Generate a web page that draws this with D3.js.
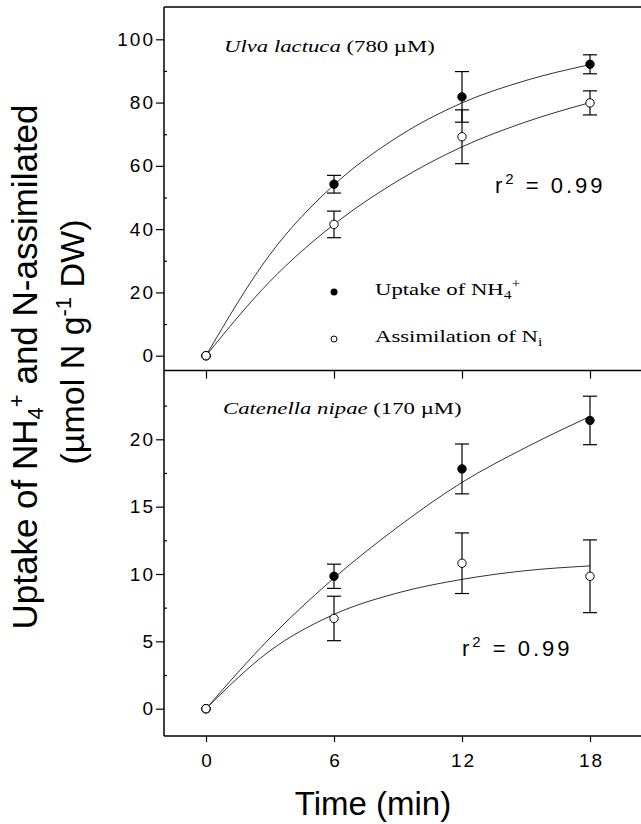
<!DOCTYPE html>
<html>
<head>
<meta charset="utf-8">
<script src="https://d3js.org/d3.v7.min.js"></script>
<style>
  body { margin: 0; background: #fff; }
  svg { display: block; }
  .tick text { font-family: "Liberation Sans", Arial, sans-serif; font-size: 19px; letter-spacing: 2px; fill: #000; }
  .tick line { stroke: #000; stroke-width: 1.2; }
  .serif { font-family: "Liberation Serif", "Times New Roman", serif; }
  .sans { font-family: "Liberation Sans", Arial, sans-serif; }
</style>
</head>
<body>
<div id="chart"></div>
<script>
// sampling times (min)
const times = [0, 6, 12, 18];

// Ulva lactuca (780 uM)
const ulvaUptake = [0, 54.2, 81.8, 92.1];
const ulvaUptakeErr = [0, 2.8, 8.0, 3.0];
const ulvaAssim = [0, 41.5, 69.2, 79.9];
const ulvaAssimErr = [0, 4.2, 8.5, 3.8];

// Catenella nipae (170 uM)
const catUptake = [0, 9.83, 17.8, 21.4];
const catUptakeErr = [0, 0.9, 1.85, 1.8];
const catAssim = [0, 6.7, 10.8, 9.83];
const catAssimErr = [0, 1.65, 2.25, 2.7];

// fitted curves
const fitTimes = [0, 3, 6, 9, 12, 15, 18];
const ulvaUptakeFit = [0, 32.0, 54.0, 69.2, 79.9, 87.0, 92.0];
const ulvaAssimFit = [0, 23.5, 41.5, 55.3, 66.0, 73.9, 80.0];
const catUptakeFit = [0, 5.25, 9.7, 13.5, 16.8, 19.4, 21.7];
const catAssimFit = [0, 4.3, 7.0, 8.6, 9.6, 10.25, 10.6];

const xTicks = [0, 6, 12, 18];
const topTicks = [0, 20, 40, 60, 80, 100];
const topMinor = [10, 30, 50, 70, 90];
const botTicks = [0, 5, 10, 15, 20];
const botMinor = [2.5, 7.5, 12.5, 17.5, 22.5];

const W = 641, H = 824;
const frameL = 164, frameR = 650, frameT = 7, frameMid = 370.5, frameB = 736;

const svg = d3.select("#chart").append("svg")
  .attr("width", W).attr("height", H);

const x = d3.scaleLinear().domain([0, 18]).range([206, 590]);
const yTop = d3.scaleLinear().domain([0, 100]).range([355.7, 39.3]);
const yBot = d3.scaleLinear().domain([0, 20]).range([708.7, 439.3]);

// frame lines
svg.append("line").attr("x1", frameL).attr("x2", frameL).attr("y1", frameT).attr("y2", frameB)
  .attr("stroke", "#000").attr("stroke-width", 1.5);
[frameT, frameMid, frameB].forEach(yy => {
  svg.append("line").attr("x1", frameL).attr("x2", frameR).attr("y1", yy).attr("y2", yy)
    .attr("stroke", "#000").attr("stroke-width", 1.5);
});

// y axes
function yAxes(scale, ticks, minor) {
  svg.append("g")
    .attr("transform", `translate(${frameL},0)`)
    .call(d3.axisLeft(scale).tickValues(ticks).tickSize(8).tickPadding(3).tickSizeOuter(0))
    .call(g => g.select(".domain").remove())
    .selectAll("text").attr("dx", "2px");
  svg.append("g")
    .attr("transform", `translate(${frameL},0)`)
    .call(d3.axisRight(scale).tickValues(minor).tickSize(3).tickFormat(""))
    .call(g => g.select(".domain").remove());
}
yAxes(yTop, topTicks, topMinor);
yAxes(yBot, botTicks, botMinor);

// ticks on the divider, pointing into the lower panel
svg.append("g")
  .attr("transform", `translate(0,${frameMid})`)
  .call(d3.axisBottom(x).tickValues(xTicks).tickSize(8).tickFormat(""))
  .call(g => g.select(".domain").remove());

// bottom x axis
svg.append("g")
  .attr("transform", `translate(0,${frameB})`)
  .call(d3.axisBottom(x).tickValues(xTicks).tickSize(6).tickPadding(12).tickSizeOuter(0))
  .call(g => g.select(".domain").remove())
  .selectAll("text").attr("dx", "1px");

// draw one series: fit curve, error bars, markers
function series(y, vals, errs, fit, filled) {
  const line = d3.line()
    .x((d, i) => x(fitTimes[i]))
    .y(d => y(d))
    .curve(d3.curveMonotoneX);
  svg.append("path")
    .datum(fit)
    .attr("d", line)
    .attr("fill", "none")
    .attr("stroke", "#333")
    .attr("stroke-width", 1);

  const pts = times.map((t, i) => ({t: t, v: vals[i], e: errs[i]}));
  const eb = svg.append("g").attr("stroke", "#000").attr("stroke-width", 1.2);
  pts.filter(d => d.e > 0).forEach(d => {
    eb.append("line").attr("x1", x(d.t)).attr("x2", x(d.t))
      .attr("y1", y(d.v - d.e)).attr("y2", y(d.v + d.e));
    eb.append("line").attr("x1", x(d.t) - 7).attr("x2", x(d.t) + 7)
      .attr("y1", y(d.v + d.e)).attr("y2", y(d.v + d.e));
    eb.append("line").attr("x1", x(d.t) - 7).attr("x2", x(d.t) + 7)
      .attr("y1", y(d.v - d.e)).attr("y2", y(d.v - d.e));
  });

  svg.selectAll(null)
    .data(pts)
    .enter()
    .append("circle")
    .attr("cx", d => x(d.t))
    .attr("cy", d => y(d.v))
    .attr("r", 4.2)
    .attr("fill", filled ? "#000" : "#fff")
    .attr("stroke", "#000")
    .attr("stroke-width", 1);
}

series(yTop, ulvaAssim, ulvaAssimErr, ulvaAssimFit, false);
series(yTop, ulvaUptake, ulvaUptakeErr, ulvaUptakeFit, true);
series(yBot, catAssim, catAssimErr, catAssimFit, false);
series(yBot, catUptake, catUptakeErr, catUptakeFit, true);

// the origin point is open in both panels
svg.append("circle").attr("cx", x(0)).attr("cy", yTop(0)).attr("r", 4.2)
  .attr("fill", "#fff").attr("stroke", "#000");
svg.append("circle").attr("cx", x(0)).attr("cy", yBot(0)).attr("r", 4.2)
  .attr("fill", "#fff").attr("stroke", "#000");

// serif labels are set in a wide Times, so stretch them a little
function serifText(px, py) {
  return svg.append("text").attr("class", "serif")
    .attr("transform", `translate(${px},${py}) scale(1.3,1)`)
    .attr("font-size", "17.5px");
}

// panel titles
const t1 = serifText(224, 52);
t1.append("tspan").attr("font-style", "italic").text("Ulva lactuca");
t1.append("tspan").text(" (780 \u00b5M)");

const t2 = serifText(223, 414);
t2.append("tspan").attr("font-style", "italic").text("Catenella nipae");
t2.append("tspan").text(" (170 \u00b5M)");

// r^2 labels
function rsq(px, py) {
  const t = svg.append("text").attr("class", "sans").attr("x", px).attr("y", py)
    .attr("font-size", "22px").attr("letter-spacing", "3px");
  t.append("tspan").text("r");
  t.append("tspan").attr("dy", "-9").attr("font-size", "15px").text("2");
  t.append("tspan").attr("dy", "9").text(" = 0.99");
}
rsq(495, 193);
rsq(462, 656);

// legend
svg.append("circle").attr("cx", 334).attr("cy", 292).attr("r", 3.5).attr("fill", "#000");
svg.append("circle").attr("cx", 334).attr("cy", 339).attr("r", 3).attr("fill", "#fff")
  .attr("stroke", "#000").attr("stroke-width", 1);
const l1 = serifText(375, 295);
l1.append("tspan").text("Uptake of NH");
l1.append("tspan").attr("dy", "4").attr("font-size", "12px").text("4");
l1.append("tspan").attr("dy", "-11").attr("font-size", "12px").text("+");
const l2 = serifText(375, 342);
l2.append("tspan").text("Assimilation of N");
l2.append("tspan").attr("dy", "4").attr("font-size", "12px").text("i");

// axis titles
svg.append("text").attr("class", "sans")
  .attr("x", 373).attr("y", 815)
  .attr("text-anchor", "middle")
  .attr("font-size", "33px")
  .text("Time (min)");

const yl1 = svg.append("text").attr("class", "sans")
  .attr("transform", "translate(37,367) rotate(-90)")
  .attr("text-anchor", "middle")
  .attr("font-size", "35px");
yl1.append("tspan").text("Uptake of NH");
yl1.append("tspan").attr("dy", "6").attr("font-size", "22px").text("4");
yl1.append("tspan").attr("dy", "-19").attr("font-size", "22px").text("+");
yl1.append("tspan").attr("dy", "13").text(" and N-assimilated");

const yl2 = svg.append("text").attr("class", "sans")
  .attr("transform", "translate(84,342) rotate(-90)")
  .attr("text-anchor", "middle")
  .attr("font-size", "34px");
yl2.append("tspan").text("(\u00b5mol N g");
yl2.append("tspan").attr("dy", "-13").attr("font-size", "22px").text("-1");
yl2.append("tspan").attr("dy", "13").text(" DW)");
</script>
</body>
</html>
